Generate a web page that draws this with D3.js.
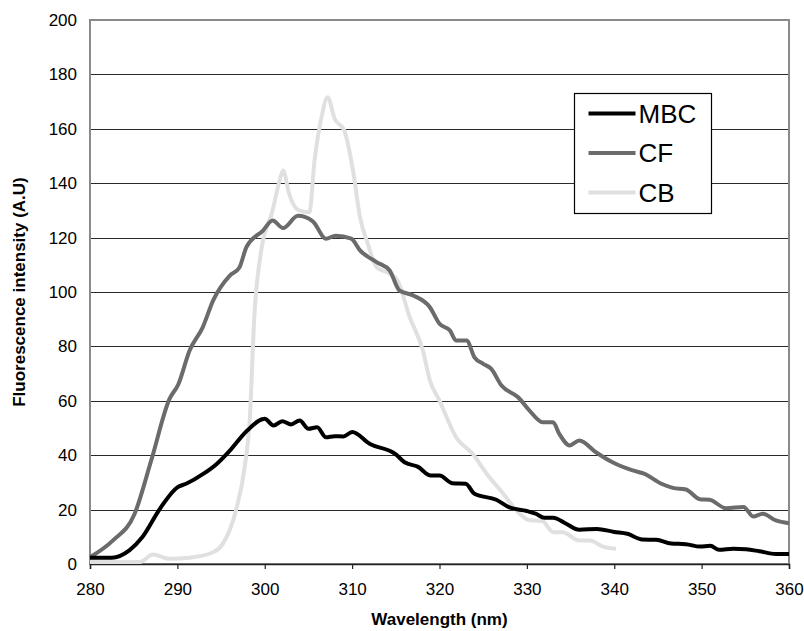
<!DOCTYPE html>
<html>
<head>
<meta charset="utf-8">
<script src="https://cdn.jsdelivr.net/npm/d3@7"></script>
<style>
  body { margin: 0; background: #fff; }
  text { font-family: "Liberation Sans", Arial, sans-serif; }
</style>
</head>
<body>
<div id="chart"></div>
<script>
// fluorescence spectra, values
const mbcWave = [280, 282.5, 284.5, 286, 288, 290, 291, 293, 294.5, 296, 298, 300, 301, 302, 303, 304, 305, 306, 307, 308, 309, 310, 312, 315, 316, 317.5, 319, 320, 321.5, 323, 324, 326.5, 328, 330, 331, 332, 333, 334.5, 336, 338, 340, 341.5, 343.2, 344.8, 346.5, 348.2, 349.8, 351, 352, 353.6, 355.1, 356.6, 358.5, 360];
const mbcValues = [2.3, 2.3, 5, 9.9, 20.3, 28.2, 29.5, 33.2, 36.8, 41.7, 49.1, 53.4, 50.9, 52.5, 51.3, 52.8, 49.7, 50.3, 46.6, 47, 46.9, 48.5, 44.2, 40.3, 37.4, 35.8, 32.5, 32.5, 29.7, 29.5, 25.8, 23.6, 20.8, 19.5, 18.5, 17, 17, 14.8, 12.6, 12.9, 11.8, 11.1, 9, 8.9, 7.5, 7.3, 6.4, 6.7, 5.2, 5.6, 5.4, 4.7, 3.7, 3.7];

const cfWave = [280, 282.6, 285.1, 287, 289.1, 290.1, 291.4, 292.9, 294.1, 296, 297.1, 297.9, 299.8, 300.9, 302.1, 303.8, 305.5, 307, 308.1, 309.9, 310.9, 312.8, 314.3, 315.4, 317, 318.9, 320, 321.2, 321.9, 323.1, 324, 325, 325.9, 327.1, 329, 330.3, 331.8, 333, 333.7, 334.9, 336, 337.9, 339.8, 342.1, 343.4, 345.4, 346.7, 348.2, 349.8, 350.9, 352.8, 354.8, 355.9, 357, 358.5, 360];
const cfValues = [2.5, 8.6, 18.4, 38, 60.7, 66, 78.5, 87, 96.9, 106, 109, 116.5, 122.6, 126.3, 123.5, 128, 126, 119.6, 120.7, 119.6, 115.3, 111, 107.9, 100.6, 98.7, 94.4, 88.3, 85.8, 82.2, 82.2, 76, 73.6, 71.8, 65.6, 61.3, 56.4, 52.1, 52.1, 47.9, 43.6, 45.4, 41.1, 37.4, 34.4, 33.2, 29.5, 28, 27.4, 23.8, 23.6, 20.5, 21, 17.5, 18.5, 16, 15];

const cbWave = [280, 285.7, 287.2, 289.1, 291.4, 294.1, 295.2, 296.7, 297.7, 298.3, 298.8, 299.6, 300.9, 301.7, 302.1, 302.8, 303.9, 305.1, 305.7, 306.5, 307.2, 308, 309.1, 310.1, 310.9, 311.8, 312.8, 314.3, 315.2, 316.6, 318.1, 318.9, 320, 321.9, 323.8, 325.4, 327.3, 328.8, 330.2, 331.8, 333, 334.1, 336, 337.2, 338.7, 340.2];
const cbValues = [0.7, 0.7, 3.5, 1.9, 2.3, 4.3, 7.4, 19.7, 35.6, 54, 90.7, 115.3, 130, 141, 144.7, 136, 130, 129.3, 148.3, 164.3, 171.6, 163.7, 159.4, 144.7, 127.5, 117.7, 109.1, 106.7, 104.2, 90.7, 78.5, 67.5, 60.1, 46.6, 40.5, 33.2, 25.8, 19.7, 16.2, 15.7, 11.7, 11.7, 8.6, 8.6, 6.4, 5.6];

const seriesNames = ["MBC", "CF", "CB"];
const seriesColors = ["#000000", "#6b6b6b", "#e0e0e0"];
const xTicks = [280, 290, 300, 310, 320, 330, 340, 350, 360];
const yTicks = [0, 20, 40, 60, 80, 100, 120, 140, 160, 180, 200];

const series = [
  { name: seriesNames[0], color: seriesColors[0], values: mbcWave.map((w, i) => [w, mbcValues[i]]) },
  { name: seriesNames[1], color: seriesColors[1], values: cfWave.map((w, i) => [w, cfValues[i]]) },
  { name: seriesNames[2], color: seriesColors[2], values: cbWave.map((w, i) => [w, cbValues[i]]) },
];

const width = 804;
const height = 631;
const margin = { top: 20, right: 15, bottom: 67, left: 90 };
const plotW = width - margin.left - margin.right;
const plotH = height - margin.top - margin.bottom;

const svg = d3
  .select("#chart")
  .append("svg")
  .attr("width", width)
  .attr("height", height);

const g = svg.append("g").attr("transform", `translate(${margin.left},${margin.top})`);

const x = d3.scaleLinear().domain([280, 360]).range([0, plotW]);
const y = d3.scaleLinear().domain([0, 200]).range([plotH, 0]);

// horizontal gridlines
g.append("g")
  .selectAll("line")
  .data(yTicks.filter((d) => d > 0 && d < 200))
  .join("line")
  .attr("x1", 0)
  .attr("x2", plotW)
  .attr("y1", (d) => Math.round(y(d)) + 0.5)
  .attr("y2", (d) => Math.round(y(d)) + 0.5)
  .attr("stroke", "#2a2a2a")
  .attr("stroke-width", 1);

// plot frame (grey left/top/right)
g.append("rect")
  .attr("x", 0)
  .attr("y", 0)
  .attr("width", plotW)
  .attr("height", plotH)
  .attr("fill", "none")
  .attr("stroke", "#8a8a8a")
  .attr("stroke-width", 2);

// y tick labels
g.append("g")
  .call(d3.axisLeft(y).tickValues(yTicks).tickSize(0).tickPadding(13))
  .call((ax) => ax.select(".domain").remove())
  .selectAll("text")
  .attr("font-size", 17)
  .attr("fill", "#000")
  .style("font-family", '"Liberation Sans", Arial, sans-serif');

// x axis
const xAxis = g
  .append("g")
  .attr("transform", `translate(0,${plotH})`)
  .call(d3.axisBottom(x).tickValues(xTicks).tickSize(5).tickPadding(14).tickFormat(d3.format("d")));
xAxis.select(".domain").attr("stroke", "#222").attr("stroke-width", 1.5);
xAxis.selectAll(".tick line").attr("stroke", "#222").attr("stroke-width", 1.2);
xAxis
  .selectAll("text")
  .attr("font-size", 17)
  .attr("fill", "#000")
  .style("font-family", '"Liberation Sans", Arial, sans-serif');

// lines, CB drawn first so darker curves sit on top
const line = d3
  .line()
  .x((d) => x(d[0]))
  .y((d) => y(d[1]))
  .curve(d3.curveMonotoneX);

g.append("g")
  .selectAll("path")
  .data(series.slice().reverse())
  .join("path")
  .attr("d", (d) => line(d.values))
  .attr("fill", "none")
  .attr("stroke", (d) => d.color)
  .attr("stroke-width", 4)
  .attr("stroke-linejoin", "round")
  .attr("stroke-linecap", "butt");

// axis titles
svg
  .append("text")
  .attr("x", margin.left + plotW / 2)
  .attr("y", 625)
  .attr("text-anchor", "middle")
  .attr("font-size", 17)
  .attr("font-weight", "bold")
  .text("Wavelength (nm)");

svg
  .append("text")
  .attr("transform", `translate(25,${margin.top + plotH / 2}) rotate(-90)`)
  .attr("text-anchor", "middle")
  .attr("font-size", 17)
  .attr("font-weight", "bold")
  .text("Fluorescence intensity (A.U)");

// legend
const legend = svg.append("g").attr("transform", "translate(574.5,93.5)");
legend
  .append("rect")
  .attr("width", 137)
  .attr("height", 120)
  .attr("fill", "#fff")
  .attr("stroke", "#000")
  .attr("stroke-width", 1.2);

const item = legend
  .selectAll(".item")
  .data(series)
  .join("g")
  .attr("class", "item")
  .attr("transform", (d, i) => `translate(0,${20 + i * 39.5})`);

item
  .append("line")
  .attr("x1", 14)
  .attr("x2", 61)
  .attr("stroke", (d) => d.color)
  .attr("stroke-width", 4);

item
  .append("text")
  .attr("x", 64)
  .attr("dy", "0.36em")
  .attr("font-size", 26)
  .text((d) => d.name);
</script>
</body>
</html>
